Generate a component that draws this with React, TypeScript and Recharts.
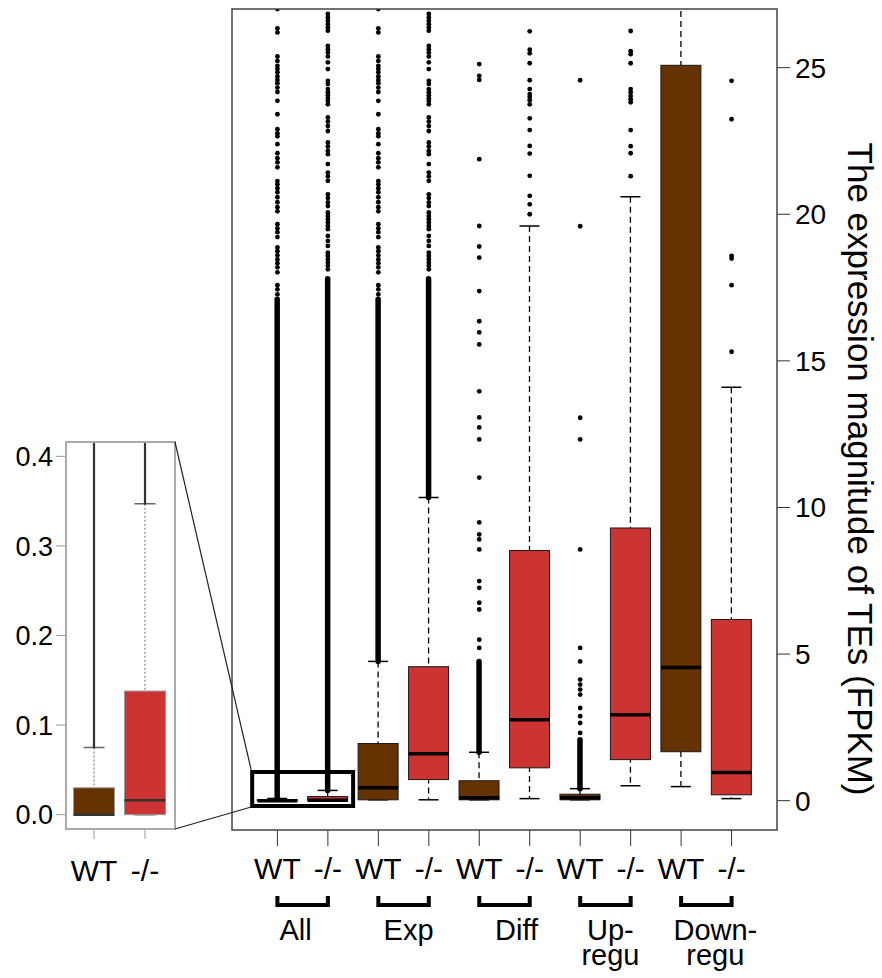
import React from "react"
import { ComposedChart, Bar, Scatter, XAxis, YAxis, ReferenceArea } from "recharts"

// ---------- data (FPKM) ----------
const boxIds = ["allWT", "allKO", "expWT", "expKO", "diffWT", "diffKO", "upWT", "upKO", "downWT", "downKO"]
const tickLabels = ["WT", "-/-", "WT", "-/-", "WT", "-/-", "WT", "-/-", "WT", "-/-"]
const groupLabels = [["All"], ["Exp"], ["Diff"], ["Up-", "regu"], ["Down-", "regu"]]

const whiskerLow = [0, 0, 0.03, 0.03, 0.03, 0.07, 0.03, 0.51, 0.48, 0.07]
const q1 = [0, 0, 0.03, 0.72, 0.03, 1.12, 0.03, 1.4, 1.67, 0.2]
const medians = [0, 0.016, 0.44, 1.6, 0.1, 2.76, 0.1, 2.93, 4.54, 0.96]
const q3 = [0.03, 0.14, 1.95, 4.57, 0.68, 8.53, 0.22, 9.3, 25.08, 6.18]
const whiskerHigh = [0.075, 0.35, 4.75, 10.34, 1.65, 19.6, 0.41, 20.6, 30, 14.1]

// outliers so dense that the dots merge into a solid bar
const denseLow = [0.075, 0.35, 4.75, 10.34, 1.65, null, 0.41, null, null, null]
const denseHigh = [17.1, 17.8, 17.1, 17.8, 4.75, null, 2.08, null, null, null]

// separate outlier dots (WT / -/- columns of All and Exp show the same high values)
const wtHigh = [
  27.0, 26.34, 26.2, 25.38, 25.23, 25.06, 24.95, 24.84, 24.7, 24.58, 24.47, 24.32, 24.17, 23.87, 23.41,
  22.9, 22.76, 22.66, 22.39, 22.08, 21.91, 21.77, 21.6, 21.13, 21.02, 20.89, 20.75, 20.58, 20.41, 20.24,
  20.1, 19.66, 19.52, 19.39, 19.22, 18.87, 18.74, 18.6, 18.46, 18.33, 18.19, 18.02, 17.58, 17.44, 17.27,
]
const koHigh = [
  26.83, 26.71, 26.6, 26.48, 26.37, 26.26, 25.74, 25.63, 25.52, 25.38, 25.18, 24.95, 24.55, 24.44, 24.27,
  24.16, 24.06, 23.96, 23.86, 23.75, 23.3, 23.16, 23.01, 22.84, 22.45, 22.31, 22.16, 22.05, 21.71, 21.42,
  21.29, 21.14, 20.68, 20.55, 20.4, 20.28, 20.06, 19.94, 19.83, 19.72, 19.6, 19.49, 19.26, 19.09, 18.92,
  18.69, 18.58, 18.46, 18.35, 18.24, 18.12,
]
const diffWtOut = [
  25.12, 24.72, 24.58, 21.88, 19.6, 18.9, 18.52, 17.38, 16.35, 15.97, 15.56, 13.96, 13.07, 12.73, 12.32,
  11.02, 9.49, 9.08, 8.91, 8.57, 7.49, 7.26, 6.75, 6.52, 5.49, 5.21,
]
const diffKoOut = [
  26.24, 25.61, 25.49, 25.15, 24.57, 24.27, 24.1, 24.0, 23.89, 23.75, 23.27, 22.87, 22.33, 22.07, 21.31,
  20.63, 20.34, 20.0,
]
const upWtOut = [24.57, 19.59, 13.06, 12.32, 8.57, 5.21, 4.75, 4.13, 3.96, 3.79, 3.62, 3.16, 2.88, 2.65, 2.31]
const upKoOut = [26.25, 25.56, 25.46, 25.15, 24.27, 24.16, 24.03, 23.92, 23.82, 22.87, 22.32, 22.08, 21.3]
const downWtOut: number[] = []
const downKoOut = [24.55, 23.24, 18.58, 18.49, 17.58, 15.31]
const outliers = [wtHigh, koHigh, wtHigh, koHigh, diffWtOut, diffKoOut, upWtOut, upKoOut, downWtOut, downKoOut]

// inset: the "All" pair zoomed to 0 - 0.4
const insetIds = ["allWT", "allKO"]
const insetLabels = ["WT", "-/-"]
const insetWhiskerLow = [0, 0]
const insetQ1 = [0, 0]
const insetMedians = [0, 0.016]
const insetQ3 = [0.03, 0.138]
const insetWhiskerHigh = [0.075, 0.347]
const insetDenseHigh = [0.45, 0.45]

// ---------- layout ----------
const W = 882
const H = 978
const GENO = ["#663300", "#cc3333"]
const FONT = "'Liberation Sans', Arial, Helvetica, sans-serif"
const MAIN = { left: 232, top: 9, right: 777, bottom: 830 }
const MAIN_Y: [number, number] = [-1, 27]
const MAIN_X: [number, number] = [0.1, 10.9]
const MAIN_UNIT = (MAIN.right - MAIN.left) / (MAIN_X[1] - MAIN_X[0])
const MAIN_PAD = 0.4 * MAIN_UNIT
const INSET = { left: 66, top: 442, right: 175, bottom: 829 }
const INSET_X: [number, number] = [0.451, 2.588]
const INSET_Y: [number, number] = [-0.016, 0.416]
const LABEL_NUDGE = [-7, 5, 12, 5, 9]

const mainPx = (x: number, y: number) => ({
  x: MAIN.left + (x - MAIN_X[0]) * MAIN_UNIT,
  y: MAIN.bottom - ((y - MAIN_Y[0]) / (MAIN_Y[1] - MAIN_Y[0])) * (MAIN.bottom - MAIN.top),
})
const ZOOM_BOX = { x1: 0.5, x2: 2.5, y1: -0.18, y2: 0.98 }

const mainRows = boxIds.map((id, i) => ({
  id,
  whisker: [whiskerLow[i], whiskerHigh[i]],
  box: [q1[i], q3[i]],
  dense: denseLow[i] == null ? null : [denseLow[i], denseHigh[i]],
  geno: i % 2,
}))
const mainMedians = medians.map((v, i) => ({ x: i + 1, v }))
const mainOutliers = outliers.flatMap((arr, i) => arr.map((v) => ({ x: i + 1, v })))

const insetRows = insetIds.map((id, i) => ({
  id,
  whisker: [insetWhiskerLow[i], insetWhiskerHigh[i]],
  box: [insetQ1[i], insetQ3[i]],
  dense: [insetWhiskerHigh[i], insetDenseHigh[i]],
  geno: i % 2,
}))
const insetMedianPts = insetMedians.map((v, i) => ({ x: i + 1, v }))

// ---------- shapes ----------
function span(p: any) {
  const cx = p.x + p.width / 2
  const y0 = Math.min(p.y, p.y + p.height)
  const y1 = Math.max(p.y, p.y + p.height)
  return { cx, y0, y1 }
}

const makeWhisker =
  (o: { stroke: string; dash: string; width: number; cap: string; capW: number }) => (p: any) => {
    if (!Number.isFinite(p.y) || !Number.isFinite(p.height)) return <g />
    const { cx, y0, y1 } = span(p)
    return (
      <g>
        <line x1={cx} x2={cx} y1={y0} y2={y1} stroke={o.stroke} strokeWidth={o.width} strokeDasharray={o.dash} />
        <line x1={cx - o.capW / 2} x2={cx + o.capW / 2} y1={y0} y2={y0} stroke={o.cap} strokeWidth={1.5} />
        <line x1={cx - o.capW / 2} x2={cx + o.capW / 2} y1={y1} y2={y1} stroke={o.cap} strokeWidth={1.5} />
      </g>
    )
  }

const makeBox = (stroke: string) => (p: any) => {
  const { y0, y1 } = span(p)
  const geno = p.payload?.geno ?? (p.index ?? 0) % 2
  return (
    <rect x={p.x} y={y0} width={p.width} height={Math.max(y1 - y0, 0.8)} fill={GENO[geno]} stroke={stroke} strokeWidth={1} />
  )
}

const makeDense = (w: number, color: string) => (p: any) => {
  if (!p.payload || p.payload.dense == null || !Number.isFinite(p.height)) return <g />
  const { cx, y0, y1 } = span(p)
  return <rect x={cx - w / 2} y={y0 - w / 2} width={w} height={y1 - y0 + w} rx={w / 2} fill={color} />
}

const makeMedian = (half: number, color: string, width: number) => (p: any) => (
  <line x1={p.cx - half} x2={p.cx + half} y1={p.cy} y2={p.cy} stroke={color} strokeWidth={width} />
)

const dot = (p: any) => <circle cx={p.cx} cy={p.cy} r={2.4} fill="#000" />

const BAND = (MAIN.right - MAIN.left - 2 * MAIN_PAD) / 10

function MainTick(props: any) {
  const { x, y, index } = props
  const label = tickLabels[index]
  const g = Math.floor(index / 2)
  return (
    <g>
      <text x={x} y={y + 21} textAnchor="middle" fontSize={30} fill="#000">
        {label}
      </text>
      {index % 2 === 0 && (
        <g>
          <path
            d={`M${x},${y + 38} V${y + 47} H${x + BAND} V${y + 38}`}
            fill="none"
            stroke="#000"
            strokeWidth={4}
          />
          {groupLabels[g].map((line, k) => (
            <text
              key={k}
              x={x + BAND / 2 + LABEL_NUDGE[g]}
              y={y + 82 + k * 25}
              textAnchor="middle"
              fontSize={29}
              fill="#000"
            >
              {line}
            </text>
          ))}
        </g>
      )}
    </g>
  )
}

function MainChart() {
  return (
    <ComposedChart
      width={W}
      height={H}
      data={mainRows}
      margin={{ top: MAIN.top, left: MAIN.left, right: W - MAIN.right - 60, bottom: H - MAIN.bottom - 60 }}
    >
      <XAxis
        xAxisId="main"
        dataKey="id"
        type="category"
        padding={{ left: MAIN_PAD, right: MAIN_PAD }}
        axisLine={false}
        tickLine={{ stroke: "#333" }}
        stroke="#333"
        tickSize={16}
        tickMargin={12}
        height={60}
        interval={0}
        tick={(p: any) => <MainTick {...p} />}
      />
      <XAxis xAxisId="w" dataKey="id" type="category" padding={{ left: MAIN_PAD, right: MAIN_PAD }} height={0} hide />
      <XAxis xAxisId="d" dataKey="id" type="category" padding={{ left: MAIN_PAD, right: MAIN_PAD }} height={0} hide />
      <XAxis xAxisId="num" dataKey="x" type="number" domain={MAIN_X} allowDataOverflow height={0} hide />
      <YAxis
        orientation="right"
        domain={MAIN_Y}
        allowDataOverflow
        ticks={[0, 5, 10, 15, 20, 25]}
        interval={0}
        width={60}
        axisLine={false}
        stroke="#333"
        tickLine={{ stroke: "#333" }}
        tickSize={13}
        tickMargin={5}
        tick={{ fontSize: 28, fill: "#000" }}
      />
      <Bar
        xAxisId="w"
        dataKey="whisker"
        barSize={40}
        isAnimationActive={false}
        shape={makeWhisker({ stroke: "#000", dash: "6 4", width: 1.3, cap: "#000", capW: 20 })}
      />
      <Bar xAxisId="main" dataKey="box" barSize={40} isAnimationActive={false} shape={makeBox("#1a1a1a")} />
      <Bar xAxisId="d" dataKey="dense" barSize={40} isAnimationActive={false} shape={makeDense(5.5, "#000")} />
      <Scatter
        xAxisId="num"
        data={mainMedians}
        dataKey="v"
        isAnimationActive={false}
        shape={makeMedian(20, "#000", 3.5)}
      />
      <Scatter xAxisId="num" data={mainOutliers} dataKey="v" isAnimationActive={false} shape={dot} />
      <ReferenceArea
        xAxisId="num"
        x1={ZOOM_BOX.x1}
        x2={ZOOM_BOX.x2}
        y1={ZOOM_BOX.y1}
        y2={ZOOM_BOX.y2}
        fill="none"
        fillOpacity={0}
        stroke="#000"
        strokeWidth={4}
        ifOverflow="visible"
      />
    </ComposedChart>
  )
}

function InsetChart() {
  const insetPadL = 2.5
  const insetPadR = 4.5
  return (
    <ComposedChart
      width={240}
      height={H}
      data={insetRows}
      margin={{ top: INSET.top, left: INSET.left - 60, right: 240 - INSET.right, bottom: H - INSET.bottom - 60 }}
    >
      <XAxis
        xAxisId="main"
        dataKey="id"
        type="category"
        padding={{ left: insetPadL, right: insetPadR }}
        axisLine={false}
        stroke="#999"
        tickLine={{ stroke: "#999" }}
        tickSize={10}
        tickMargin={21}
        height={60}
        interval={0}
        tickFormatter={(_v: any, i: number) => insetLabels[i]}
        tick={{ fontSize: 30, fill: "#000" }}
      />
      <XAxis xAxisId="w" dataKey="id" type="category" padding={{ left: insetPadL, right: insetPadR }} height={0} hide />
      <XAxis xAxisId="d" dataKey="id" type="category" padding={{ left: insetPadL, right: insetPadR }} height={0} hide />
      <XAxis xAxisId="num" dataKey="x" type="number" domain={INSET_X} allowDataOverflow height={0} hide />
      <YAxis
        orientation="left"
        domain={INSET_Y}
        allowDataOverflow
        ticks={[0, 0.1, 0.2, 0.3, 0.4]}
        interval={0}
        width={60}
        axisLine={false}
        stroke="#999"
        tickLine={{ stroke: "#999" }}
        tickSize={10}
        tickMargin={3}
        tickFormatter={(v: number) => v.toFixed(1)}
        tick={{ fontSize: 27, fill: "#000" }}
      />
      <Bar
        xAxisId="w"
        dataKey="whisker"
        barSize={41}
        isAnimationActive={false}
        shape={makeWhisker({ stroke: "#888", dash: "2 2", width: 1.2, cap: "#666", capW: 21 })}
      />
      <Bar xAxisId="main" dataKey="box" barSize={41} isAnimationActive={false} shape={makeBox("#999")} />
      <Bar xAxisId="d" dataKey="dense" barSize={41} isAnimationActive={false} shape={makeDense(2.2, "#333")} />
      <Scatter
        xAxisId="num"
        data={insetMedianPts}
        dataKey="v"
        isAnimationActive={false}
        shape={makeMedian(20.5, "#333", 2.5)}
      />
    </ComposedChart>
  )
}

export default function App() {
  const zTop = mainPx(ZOOM_BOX.x1, ZOOM_BOX.y2)
  const zBot = mainPx(ZOOM_BOX.x1, ZOOM_BOX.y1)
  return (
    <div style={{ position: "absolute", left: 0, top: 0, width: W, height: H, background: "#fff", fontFamily: FONT }}>
      <div style={{ position: "absolute", left: 0, top: 0 }}>
        <MainChart />
      </div>
      <div style={{ position: "absolute", left: 0, top: 0 }}>
        <InsetChart />
      </div>
      <svg width={W} height={H} style={{ position: "absolute", left: 0, top: 0, pointerEvents: "none" }}>
        <rect
          x={MAIN.left}
          y={MAIN.top}
          width={MAIN.right - MAIN.left}
          height={MAIN.bottom - MAIN.top}
          fill="none"
          stroke="#444"
          strokeWidth={1.5}
        />
        <rect
          x={INSET.left}
          y={INSET.top}
          width={INSET.right - INSET.left}
          height={INSET.bottom - INSET.top}
          fill="none"
          stroke="#aaa"
          strokeWidth={2}
        />
        <line x1={INSET.right} y1={INSET.top} x2={zTop.x - 1} y2={zTop.y - 2} stroke="#222" strokeWidth={1.2} />
        <line x1={INSET.right} y1={INSET.bottom} x2={zBot.x - 1} y2={zBot.y + 1} stroke="#222" strokeWidth={1.2} />
        <text
          transform="translate(860,469) rotate(90)"
          textAnchor="middle"
          dominantBaseline="central"
          fontSize={35}
          fill="#000"
          fontFamily={FONT}
        >
          The expression magnitude of TEs (FPKM)
        </text>
      </svg>
    </div>
  )
}
